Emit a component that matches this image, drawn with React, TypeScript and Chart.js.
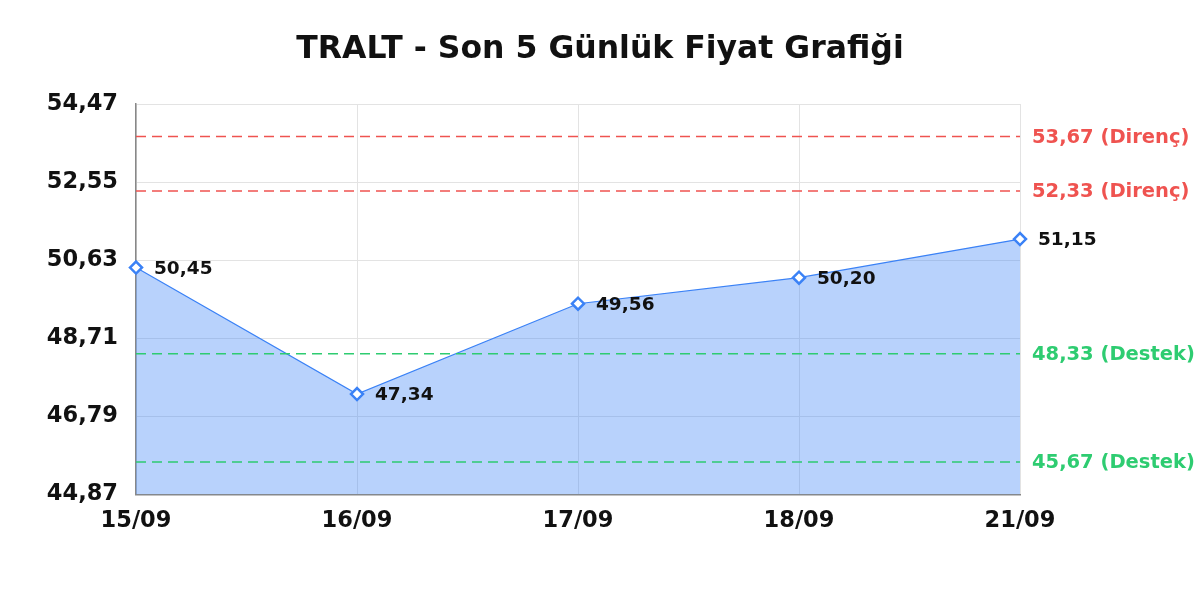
import { useEffect, useRef } from "react";
import { Chart, registerables } from "chart.js";
import type { ChartConfiguration, Plugin } from "chart.js";

Chart.register(...registerables);

// data
const dates = ["15/09", "16/09", "17/09", "18/09", "21/09"];
const prices = [50.45, 47.34, 49.56, 50.2, 51.15];
const yTicks = [44.87, 46.79, 48.71, 50.63, 52.55, 54.47];
const levelValues = [53.67, 52.33, 48.33, 45.67];
const levelNames = ["Direnç", "Direnç", "Destek", "Destek"];
const title = "TRALT - Son 5 Günlük Fiyat Grafiği";

const RED = "#ef5350";
const GREEN = "#2ecc71";
const BLUE = "#3b82f6";
const FONT = "DejaVu Sans";

const fmt = (v: number) => v.toFixed(2).replace(".", ",");

// title centred on the whole canvas (not just the plot)
const titlePlugin: Plugin<"line"> = {
  id: "pageTitle",
  afterDraw(chart) {
    const { ctx, width } = chart;
    ctx.save();
    ctx.fillStyle = "#111";
    ctx.font = `bold 31.5px "${FONT}"`;
    ctx.textAlign = "center";
    ctx.textBaseline = "middle";
    ctx.fillText(title, width / 2, 50);
    ctx.restore();
  },
};

// dashed support / resistance lines with labels on the right
const levelsPlugin: Plugin<"line"> = {
  id: "levels",
  afterDatasetsDraw(chart) {
    const { ctx, chartArea, scales } = chart;
    const y = scales.y;
    ctx.save();
    levelValues.forEach((v, i) => {
      const py = y.getPixelForValue(v);
      const color = levelNames[i] === "Direnç" ? RED : GREEN;
      ctx.strokeStyle = color;
      ctx.lineWidth = 1.5;
      ctx.setLineDash([10, 6]);
      ctx.beginPath();
      ctx.moveTo(chartArea.left, py);
      ctx.lineTo(chartArea.right, py);
      ctx.stroke();
      ctx.setLineDash([]);
      ctx.fillStyle = color;
      ctx.font = `bold 19.5px "${FONT}"`;
      ctx.textAlign = "left";
      ctx.textBaseline = "middle";
      ctx.fillText(`${fmt(v)} (${levelNames[i]})`, chartArea.right + 12, py + 1);
    });
    ctx.restore();
  },
};

// value labels next to each point
const valueLabels: Plugin<"line"> = {
  id: "valueLabels",
  afterDatasetsDraw(chart) {
    const { ctx } = chart;
    const meta = chart.getDatasetMeta(0);
    ctx.save();
    ctx.fillStyle = "#111";
    ctx.font = `bold 18.5px "${FONT}"`;
    ctx.textAlign = "left";
    ctx.textBaseline = "middle";
    meta.data.forEach((pt, i) => {
      ctx.fillText(fmt(prices[i]), pt.x + 18, pt.y + 1.5);
    });
    ctx.restore();
  },
};

export default function App() {
  const canvasRef = useRef<HTMLCanvasElement>(null);

  useEffect(() => {
    document.body.style.margin = "0";
    if (!canvasRef.current) return;

    const config: ChartConfiguration<"line"> = {
      type: "line",
      data: {
        labels: dates,
        datasets: [
          {
            data: prices,
            borderColor: BLUE,
            borderWidth: 1.2,
            backgroundColor: "rgba(59,130,246,0.36)",
            fill: "start",
            tension: 0,
            pointStyle: "rectRot",
            pointRadius: 6,
            pointBorderWidth: 2.5,
            pointBackgroundColor: "#fff",
            pointBorderColor: BLUE,
          },
        ],
      },
      options: {
        animation: false,
        responsive: true,
        maintainAspectRatio: false,
        layout: { padding: { left: 0, right: 180, top: 104, bottom: 0 } },
        plugins: {
          legend: { display: false },
          tooltip: { enabled: false },
          title: { display: false },
        },
        scales: {
          x: {
            grid: { color: "#e3e3e3", drawTicks: false },
            border: { color: "#888", width: 1.5 },
            ticks: {
              color: "#111",
              padding: 13,
              maxRotation: 0,
              font: { family: FONT, size: 22.5, weight: "bold" },
            },
            afterFit(scale) {
              scale.height = 105.5;
            },
          },
          y: {
            min: yTicks[0],
            max: yTicks[yTicks.length - 1],
            grid: { color: "#e3e3e3", drawTicks: false },
            border: { color: "#888", width: 1.5 },
            ticks: {
              color: "#111",
              padding: 18,
              font: { family: FONT, size: 22.5, weight: "bold" },
              callback: (v) => fmt(Number(v)),
            },
            afterBuildTicks(scale) {
              scale.ticks = yTicks.map((value) => ({ value }));
            },
            afterFit(scale) {
              scale.width = 136;
            },
          },
        },
      },
      plugins: [levelsPlugin, valueLabels, titlePlugin],
    };

    const chart = new Chart(canvasRef.current, config);
    return () => chart.destroy();
  }, []);

  return (
    <div style={{ width: 1200, height: 600, position: "relative", background: "#fff" }}>
      <canvas ref={canvasRef} />
    </div>
  );
}
